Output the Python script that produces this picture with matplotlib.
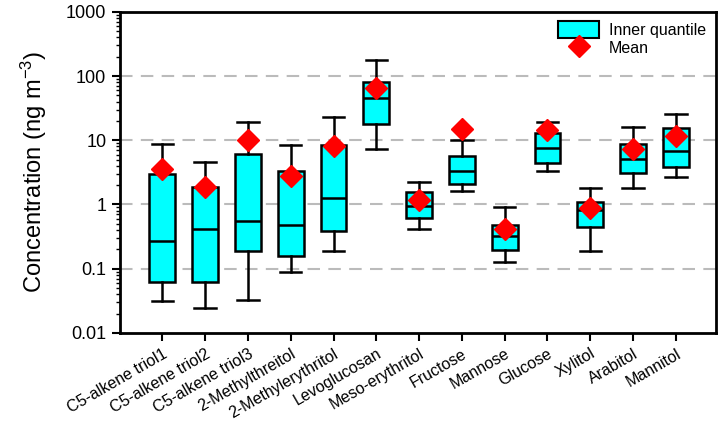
import matplotlib
matplotlib.use("Agg")
import matplotlib.pyplot as plt
from matplotlib.patches import Patch
from matplotlib.lines import Line2D
from matplotlib.ticker import LogLocator, NullFormatter, FixedLocator, FixedFormatter

plt.rcParams['font.family'] = ['Liberation Sans', 'DejaVu Sans']
plt.rcParams['mathtext.default'] = 'regular'

# 화합물 이름
compounds = ["C5-alkene triol1", "C5-alkene triol2", "C5-alkene triol3",
             "2-Methylthreitol", "2-Methylerythritol", "Levoglucosan",
             "Meso-erythritol", "Fructose", "Mannose", "Glucose",
             "Xylitol", "Arabitol", "Mannitol"]

# 상자그림 통계값 (ng m-3)
whisk_lo = [0.031, 0.024, 0.033, 0.090, 0.185, 7.4, 0.41, 1.63, 0.128, 3.35, 0.19, 1.82, 2.7]
q1       = [0.063, 0.063, 0.19, 0.159, 0.38, 18.1, 0.62, 2.05, 0.197, 4.46, 0.45, 3.04, 3.87]
median   = [0.265, 0.41, 0.56, 0.48, 1.27, 46.0, 0.93, 3.27, 0.325, 7.7, 0.83, 5.15, 6.86]
q3       = [2.93, 1.84, 6.2, 3.35, 8.5, 82.0, 1.54, 5.74, 0.483, 12.8, 1.11, 8.8, 15.8]
whisk_hi = [8.8, 4.6, 19.4, 8.5, 23.2, 179, 2.26, 10.2, 0.92, 19.4, 1.82, 16.2, 25.9]
mean     = [3.56, 1.84, 10.1, 2.8, 8.2, 65.0, 1.17, 15.1, 0.418, 14.6, 0.89, 7.4, 11.5]

positions = list(range(1, len(compounds) + 1))

stats = []
for i in range(len(compounds)):
    stats.append({"whislo": whisk_lo[i], "q1": q1[i], "med": median[i],
                  "q3": q3[i], "whishi": whisk_hi[i], "fliers": []})

fig = plt.figure(figsize=(7.2, 4.24), dpi=100)
ax = fig.add_axes([0.166, 0.215, 0.828, 0.757])

ax.bxp(stats, positions=positions, widths=0.6, patch_artist=True,
       showfliers=False, capwidths=0.5,
       boxprops=dict(facecolor="#00ffff", edgecolor="black", linewidth=1.8),
       medianprops=dict(color="black", linewidth=1.8),
       whiskerprops=dict(color="black", linewidth=1.8),
       capprops=dict(color="black", linewidth=1.8), zorder=3)

ax.plot(positions, mean, linestyle="none", marker="D", markersize=11,
        color="red", markeredgecolor="red", zorder=4)

ax.set_yscale("log")
ax.set_ylim(0.01, 1000)
ax.set_xlim(0, 13.93)

# 눈금선
for v in [0.1, 1, 10, 100]:
    ax.axhline(v, color="#bbbbbb", linestyle=(0, (6, 4)), linewidth=1.5, zorder=1)

ax.yaxis.set_major_locator(FixedLocator([0.01, 0.1, 1, 10, 100, 1000]))
ax.yaxis.set_major_formatter(FixedFormatter(["0.01", "0.1", "1", "10", "100", "1000"]))
ax.yaxis.set_minor_locator(LogLocator(base=10, subs=range(2, 10), numticks=20))
ax.yaxis.set_minor_formatter(NullFormatter())
ax.tick_params(axis="y", which="major", length=6, width=1.5, labelsize=13)
ax.tick_params(axis="y", which="minor", length=3, width=1)

ax.set_xticks(positions)
ax.set_xticklabels(compounds, rotation=30, ha="right", rotation_mode="anchor", fontsize=11.5)
ax.tick_params(axis="x", length=6, width=1.5)

for s in ax.spines.values():
    s.set_linewidth(2)

ax.set_ylabel("Concentration (ng m$^{-3}$)", fontsize=17, labelpad=12)

handles = [Patch(facecolor="#00ffff", edgecolor="black", linewidth=1.5),
           Line2D([], [], linestyle="none", marker="D", markersize=11, color="red")]
ax.legend(handles, ["Inner quantile", "Mean"], loc="upper right", frameon=False,
          fontsize=11.5, handlelength=2.6, handleheight=1.2, labelspacing=0.1,
          borderaxespad=0.2, handletextpad=0.6)

fig.savefig("out.png", dpi=100)
